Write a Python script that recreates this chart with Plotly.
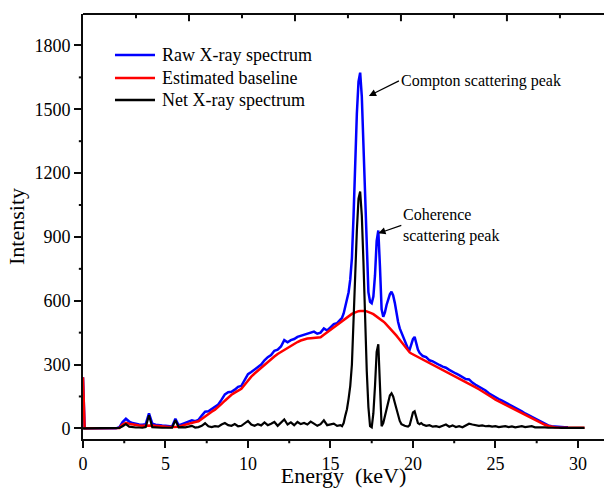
import plotly.graph_objects as go

energy = [
    0.0, 0.1, 0.2, 0.4, 0.6, 0.8, 1.0, 1.2, 1.4, 1.6,
    1.8, 2.0, 2.2, 2.4, 2.6, 2.8, 3.0, 3.2, 3.4, 3.6,
    3.8, 4.0, 4.2, 4.4, 4.6, 4.8, 5.0, 5.2, 5.4, 5.6,
    5.8, 6.0, 6.2, 6.4, 6.6, 6.8, 7.0, 7.2, 7.4, 7.6,
    7.8, 8.0, 8.2, 8.4, 8.6, 8.8, 9.0, 9.2, 9.4, 9.6,
    9.8, 10.0, 10.2, 10.4, 10.6, 10.8, 11.0, 11.2, 11.4, 11.6,
    11.8, 12.0, 12.2, 12.4, 12.6, 12.8, 13.0, 13.2, 13.4, 13.6,
    13.8, 14.0, 14.2, 14.4, 14.6, 14.8, 15.0, 15.2, 15.4, 15.6,
    15.7, 15.8, 15.9, 16.0, 16.1, 16.2, 16.3, 16.4, 16.5, 16.6,
    16.7, 16.8, 16.9, 17.0, 17.1, 17.2, 17.3, 17.4, 17.5, 17.6,
    17.7, 17.8, 17.9, 18.0, 18.1, 18.2, 18.3, 18.4, 18.5, 18.6,
    18.7, 18.8, 18.9, 19.0, 19.1, 19.2, 19.3, 19.4, 19.5, 19.6,
    19.7, 19.8, 19.9, 20.0, 20.1, 20.2, 20.3, 20.4, 20.5, 20.6,
    20.8, 21.0, 21.2, 21.4, 21.6, 21.8, 22.0, 22.2, 22.4, 22.6,
    22.8, 23.0, 23.2, 23.4, 23.6, 23.8, 24.0, 24.2, 24.4, 24.6,
    24.8, 25.0, 25.2, 25.4, 25.6, 25.8, 26.0, 26.2, 26.4, 26.6,
    26.8, 27.0, 27.2, 27.4, 27.6, 27.8, 28.0, 28.2, 28.4, 28.6,
    28.8, 29.0, 29.2, 29.4, 29.6, 29.8, 30.0, 30.2, 30.4,
]

# raw spectrum stops at 29.4 keV
raw_spectrum = [
    240, 0, 0, 0, 1, 0, 0, 1, 0, 0,
    1, 0, 5, 30, 45, 32, 25, 20, 18, 17,
    20, 70, 22, 17, 14, 13, 12, 10, 9, 45,
    14, 20, 25, 30, 38, 34, 40, 60, 78, 80,
    90, 100, 112, 135, 160, 170, 172, 182, 195, 200,
    230, 255, 265, 278, 290, 300, 320, 335, 345, 365,
    370, 385, 415, 405, 415, 420, 430, 435, 440, 445,
    450, 455, 445, 450, 470, 460, 475, 490, 495, 510,
    520, 540, 570, 600, 640, 700, 800, 1000, 1250, 1480,
    1630, 1672, 1560, 1330, 1050, 800, 640, 595, 588, 620,
    720, 880, 930, 760, 560, 525, 545, 580, 610, 630,
    642, 625, 590, 540, 500, 470, 450, 430, 410, 395,
    375, 370, 395, 420, 430, 400, 370, 355, 345, 340,
    335, 320, 315, 305, 298, 290, 285, 275, 268, 258,
    250, 240, 232, 230, 215, 205, 196, 188, 178, 165,
    155, 146, 138, 130, 122, 112, 105, 96, 88, 80,
    70, 62, 55, 46, 36, 28, 20, 14, 10, 8,
    7, 6, 5, 5,
]

baseline = [
    240, 0, 0, 0, 0, 0, 0, 0, 0, 0,
    0, 0, 2, 18, 26, 22, 18, 15, 13, 12,
    13, 16, 14, 12, 10, 9, 8, 7, 6, 6,
    8, 13, 18, 22, 26, 30, 33, 45, 58, 68,
    78, 88, 100, 115, 130, 145, 158, 168, 178, 186,
    205, 225, 243, 258, 272, 285, 298, 312, 325, 338,
    350, 360, 370, 380, 390, 398, 406, 413, 418, 422,
    424, 425, 424, 428, 440, 452, 463, 475, 487, 498,
    505, 510, 515, 522, 528, 533, 538, 542, 546, 549,
    551, 552, 553, 553, 552, 550, 548, 545, 541, 537,
    532, 527, 522, 516, 510, 503, 496, 488, 480, 472,
    463, 454, 445, 436, 426, 416, 406, 396, 386, 376,
    366, 357, 352, 348, 344, 340, 336, 332, 328, 324,
    316, 308, 300, 292, 284, 276, 268, 260, 252, 244,
    236, 228, 220, 211, 202, 193, 184, 175, 165, 155,
    145, 135, 127, 119, 111, 103, 95, 87, 79, 71,
    63, 55, 47, 40, 32, 24, 17, 11, 7, 5,
    4, 3, 3, 3, 3, 3, 3, 3, 3,
]

net_spectrum = [
    0, 0, 0, 0, 0, 0, 0, 0, 0, 0,
    0, 0, 2, 10, 20, 8, 5, 4, 4, 3,
    6, 62, 6, 4, 3, 3, 3, 2, 3, 38,
    5, 6, 5, 8, 12, 4, 6, 12, 24, 10,
    6, 10, 8, 18, 25, 15, 12, 20, 10, 12,
    22, 35, 18, 12, 20, 14, 28, 15, 22, 30,
    12, 25, 42, 18, 28, 15, 30, 20, 25, 18,
    32, 22, 12, 20, 38, 15, 18, 22, 12, 15,
    10, 25, 60, 90, 140, 200, 300, 480, 720, 930,
    1080, 1113, 1000, 780, 500, 270, 100, 10, 5, 70,
    200, 360, 395, 180, 10, 25, 60, 100, 130, 155,
    165, 150, 120, 90, 60, 35, 20, 15, 12, 10,
    8, 15, 45, 75, 80, 50, 25, 20, 25, 18,
    12, 15, 8, 10, 6, 12, 18, 8, 14, 6,
    10, 5, 12, 22, 18, 15, 12, 14, 10, 12,
    8, 10, 6, 8, 10, 6, 9, 5, 8, 10,
    6, 8, 10, 5, 6, 4, 5, 3, 4, 3,
    3, 2, 3, 2, 2, 2, 2, 2, 2,
]

series_names = ["Raw X-ray spectrum", "Estimated baseline", "Net X-ray spectrum"]
series_colors = ["#0000ff", "#ff0000", "#000000"]

x_tick_values = [0, 5, 10, 15, 20, 25, 30]
y_tick_values = [0, 300, 600, 900, 1200, 1500, 1800]
x_minor_values = [2.5, 7.5, 12.5, 17.5, 22.5, 27.5]
y_minor_values = [150, 450, 750, 1050, 1350, 1650]
top_tick_values = [3.2121, 6.4242, 9.6364, 12.8485, 16.0606, 19.2727, 22.4848, 25.697, 28.9091]

FONT = "Liberation Serif"
AXIS_COLOR = "#0b0b0b"
XMAX = 31.58
YMIN, YMAX = -50, 1948

fig = go.Figure()
for name, vals, col, w in zip(series_names, [raw_spectrum, baseline, net_spectrum],
                              series_colors, [2.5, 2.5, 2.2]):
    fig.add_trace(go.Scatter(x=energy[:len(vals)], y=vals, mode="lines", name=name,
                             line=dict(color=col, width=w), showlegend=False))

fig.update_layout(
    width=604, height=488,
    margin=dict(l=83, r=0, t=14, b=49),
    paper_bgcolor="white", plot_bgcolor="white",
    font=dict(family=FONT, color="black", size=18),
    showlegend=False,
    xaxis=dict(range=[0, XMAX], tickmode="array", tickvals=x_tick_values,
               ticks="outside", ticklen=7, tickwidth=2, tickcolor=AXIS_COLOR,
               showline=True, linecolor=AXIS_COLOR, linewidth=2, showgrid=False, zeroline=False,
               title=dict(text="Energy  (keV)", standoff=10), automargin=False),
    yaxis=dict(range=[YMIN, YMAX], tickmode="array", tickvals=y_tick_values,
               ticks="outside", ticklen=7, tickwidth=2, tickcolor=AXIS_COLOR,
               showline=True, linecolor=AXIS_COLOR, linewidth=2, showgrid=False, zeroline=False,
               title=dict(text="Intensity", standoff=4), automargin=False),
)

tick_line = dict(color=AXIS_COLOR, width=2)
# minor ticks (outward) on the bottom and left axes
for xv in x_minor_values:
    fig.add_shape(type="line", xref="x", yref="paper", x0=xv, x1=xv, y0=0, y1=-0.01,
                  line=tick_line)
for yv in y_minor_values:
    fig.add_shape(type="line", xref="paper", yref="y", x0=0, x1=-0.008, y0=yv, y1=yv,
                  line=tick_line)
# top frame line with unlabeled inward ticks
fig.add_shape(type="line", xref="paper", yref="paper", x0=0, x1=1, y0=1, y1=1, line=tick_line)
for k, xv in enumerate(top_tick_values):
    ln = 0.017 if k % 2 == 1 else 0.01
    fig.add_shape(type="line", xref="x", yref="paper", x0=xv, x1=xv, y0=1, y1=1 - ln,
                  line=tick_line)

# legend (line samples + labels) placed in the upper left
legend_rows_y = [0.9035, 0.8494, 0.7976]
for name, col, yy in zip(series_names, series_colors, legend_rows_y):
    fig.add_shape(type="line", xref="paper", yref="paper", x0=0.0614, x1=0.1382, y0=yy, y1=yy,
                  line=dict(color=col, width=2.5))
    fig.add_annotation(xref="paper", yref="paper", x=0.1478, y=yy, xanchor="left", yanchor="middle",
                       showarrow=False, text=name, font=dict(size=18, family=FONT, color="black"))

# peak labels with arrows pointing at the peaks
fig.add_annotation(x=17.33, y=1563, ax=30, ay=-15, xanchor="left", yanchor="middle",
                   text="Compton scattering peak", showarrow=True,
                   arrowhead=2, arrowsize=1.2, arrowwidth=1.2, arrowcolor="black", standoff=0,
                   font=dict(size=16, family=FONT, color="black"))
fig.add_annotation(x=17.9, y=917, ax=23, ay=-8, xanchor="left", yanchor="middle", align="left",
                   text="Coherence<br>scattering peak", showarrow=True,
                   arrowhead=2, arrowsize=1.2, arrowwidth=1.2, arrowcolor="black", standoff=0,
                   font=dict(size=16, family=FONT, color="black"))

fig.write_html("out.html")
